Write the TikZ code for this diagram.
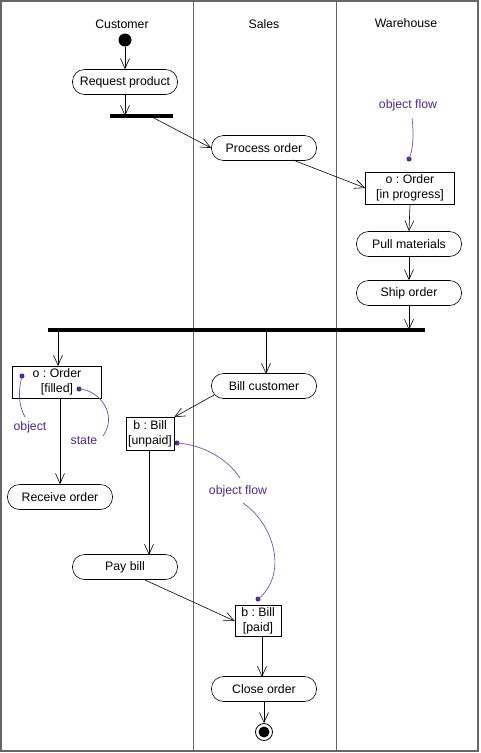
\documentclass[tikz,border=0pt]{standalone}
\usepackage{fontspec}
\setmainfont{Liberation Sans}
\usetikzlibrary{arrows.meta}
\definecolor{notecol}{RGB}{78,40,140}
\frenchspacing
\tikzset{
  x=1pt, y=-1pt,
  every node/.style={font=\fontsize{12.3}{14}\selectfont},
  action/.style={draw, line width=0.6pt, rounded corners=12pt, minimum width=105pt, minimum height=25pt, inner sep=0pt},
  objbox/.style={draw, line width=0.6pt, align=center, inner sep=2pt, font=\fontsize{12.3}{15}\selectfont},
  flow/.style={draw, line width=0.6pt, -{Straight Barb[length=10pt,width=9pt]}},
  bar/.style={line width=3.2pt},
  lane/.style={line width=0.9pt, draw=black!60},
  note/.style={text=notecol},
  notecurve/.style={draw=notecol!80, line width=0.7pt},
  notedot/.style={fill=notecol, circle, inner sep=0pt, minimum size=5pt},
}
\begin{document}
\begin{tikzpicture}
\useasboundingbox (0,0) rectangle (480,753);
% frame and swimlanes
\draw[lane, line width=1.4pt] (1,1) rectangle (478,751);
\draw[lane] (193,1) -- (193,751);
\draw[lane] (336,1) -- (336,751);
\node (hcust) at (122,24) {Customer};
\node (hsales) at (264,24) {Sales};
\node (hware) at (406,23) {Warehouse};

% customer lane, top
\node[circle, fill, inner sep=0pt, minimum size=13pt] (start) at (125,40) {};
\node[action] (req) at (125,82) {Request product};
\coordinate (forkL) at (110,116);
\coordinate (forkR) at (173,116);
\draw[bar] (forkL) -- (forkR);
\coordinate (forkin) at (125,116);
\coordinate (forkout) at (150,116);
\draw[flow] (start) -- (req);
\draw[flow] (req) -- (forkin);

% sales / warehouse, top
\node[action] (proc) at (264,148) {Process order};
\node[objbox, minimum width=89pt, minimum height=32pt] (oprog) at (410,188) {o : Order\\{}[in progress]};
\node[action] (pull) at (409,244) {Pull materials};
\node[action] (ship) at (409,293) {Ship order};
\coordinate (procout) at (293,160);
\draw[flow] (forkout) -- (proc.west);
\draw[flow] (procout) -- (oprog.west);
\draw[flow] (oprog.south) -- (pull.north);
\draw[flow] (pull.south) -- (ship.north);

% object flow note, top
\node[note] (nflow1) at (408,105) {object flow};
\node[notedot] (d1) at (409,159) {};
\draw[notecurve] (412,118) .. controls (414,135) and (413,150) .. (d1.center);

% join bar
\coordinate (joinL) at (48,330);
\coordinate (joinR) at (425,330);
\draw[bar] (joinL) -- (joinR);
\coordinate (joinin) at (409,330);
\coordinate (joinA) at (58,330);
\coordinate (joinB) at (266,330);
\draw[flow] (ship.south) -- (joinin);

% customer lane, bottom
\node[objbox, minimum width=89pt, minimum height=32pt] (ofill) at (57,382) {o : Order\\{}[filled]};
\coordinate (ofilltop) at (58,366);
\draw[flow] (joinA) -- (ofilltop);
\node[action] (recv) at (60,497) {Receive order};
\coordinate (ofillout) at (60,398);
\draw[flow] (ofillout) -- (recv.north);
\node[notedot] (d2) at (22,376) {};
\node[notedot] (d3) at (79,389) {};
\node[note] (nobj) at (30,427) {object};
\node[note] (nstate) at (84,441) {state};
\draw[notecurve] (d2.center) .. controls (17,395) and (20,408) .. (25,417);
\draw[notecurve] (d3.center) .. controls (100,390) and (118,415) .. (103,436);

% billing
\node[action] (billc) at (264,386) {Bill customer};
\coordinate (billtop) at (266,374);
\draw[flow] (joinB) -- (billtop);
\node[objbox, minimum width=47pt, minimum height=33pt] (bunp) at (150,434) {b : Bill\\{}[unpaid]};
\coordinate (billout) at (214,395);
\draw[flow] (billout) -- (bunp.north east);
\node[action] (pay) at (125,567) {Pay bill};
\coordinate (bunpout) at (149,451);
\coordinate (paytop) at (149,555);
\draw[flow] (bunpout) -- (paytop);
\node[objbox, minimum width=46pt, minimum height=31pt] (bpaid) at (258,621) {b : Bill\\{}[paid]};
\coordinate (payout) at (145,580);
\draw[flow] (payout) -- (bpaid.west);
\node[action] (close) at (264,689) {Close order};
\coordinate (bpaidout) at (262,637);
\coordinate (closetop) at (262,677);
\draw[flow] (bpaidout) -- (closetop);

% object flow note, bottom
\node[notedot] (d4) at (177,443) {};
\node[notedot] (d5) at (258,599) {};
\node[note] (nflow2) at (238,491) {object flow};
\draw[notecurve] (d4.center) .. controls (205,445) and (228,460) .. (240,478);
\draw[notecurve] (243,503) .. controls (275,525) and (288,575) .. (d5.center);

% final node
\node[circle, draw, line width=0.8pt, inner sep=0pt, minimum size=17pt] (final) at (264,732) {};
\node[circle, fill, inner sep=0pt, minimum size=11pt] (finalin) at (264,732) {};
\draw[flow] (close.south) -- (final.north);
\end{tikzpicture}
\end{document}
